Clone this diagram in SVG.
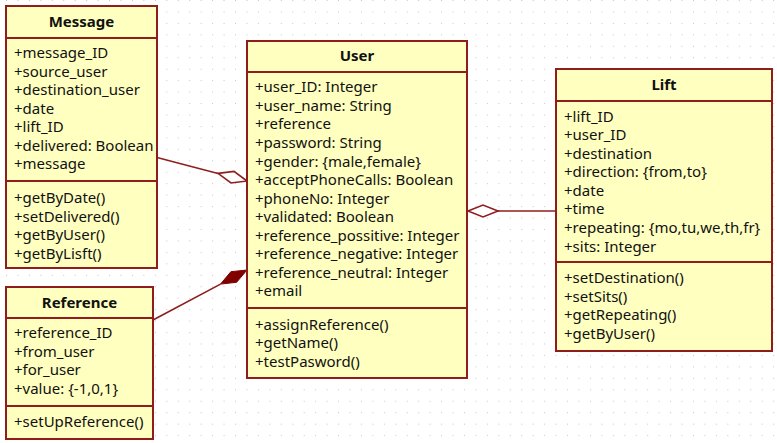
<svg xmlns="http://www.w3.org/2000/svg" width="777" height="443" viewBox="0 0 777 443">
<defs>
<pattern id="grid" patternUnits="userSpaceOnUse" x="6" y="0" width="11.45" height="11.45">
<rect x="0" y="0" width="1" height="1" fill="#c4c4c4"/>
</pattern>
<style>
.box{fill:#ffffc0;stroke:#8f1d1d;stroke-width:2}
.div{stroke:#8f1d1d;stroke-width:2}
.t{font-family:"Noto Sans","DejaVu Sans",sans-serif;font-size:15px;fill:#111}
.h{font-family:"Noto Sans","DejaVu Sans",sans-serif;font-size:15px;font-weight:bold;fill:#111;text-anchor:middle}
.ln{stroke:#8f1d1d;stroke-width:1.6;fill:none}
.hol{fill:#ffffff;stroke:#8f1d1d;stroke-width:1.6}
.fil{fill:#800000;stroke:#800000;stroke-width:1}
</style>
</defs>
<rect width="777" height="443" fill="#ffffff"/>
<rect width="777" height="443" fill="url(#grid)"/>

<g id="connectors">
<line class="ln" x1="157" y1="157.5" x2="218" y2="173.4"/>
<polygon class="hol" points="247,181 234,171.4 218,173.4 231,183"/>
<line class="ln" x1="153" y1="320" x2="220.5" y2="284.1"/>
<polygon class="fil" points="247,270 230.9,271.7 220.5,284.1 236.6,282.3"/>
<line class="ln" x1="498" y1="211" x2="556" y2="211"/>
<polygon class="hol" points="468,211 483,205 498,211 483,217"/>
</g>

<g id="Message">
<rect class="box" x="6" y="6" width="151" height="262"/>
<line class="div" x1="6" y1="38" x2="157" y2="38"/>
<line class="div" x1="6" y1="181" x2="157" y2="181"/>
<text class="h" x="81.5" y="27">Message</text>
<text class="t">
<tspan x="14" y="58.3">+message_ID</tspan>
<tspan x="14" y="76.8">+source_user</tspan>
<tspan x="14" y="95.2">+destination_user</tspan>
<tspan x="14" y="113.7">+date</tspan>
<tspan x="14" y="132.1">+lift_ID</tspan>
<tspan x="14" y="150.6">+delivered: Boolean</tspan>
<tspan x="14" y="169">+message</tspan>
<tspan x="14" y="203">+getByDate()</tspan>
<tspan x="14" y="221.5">+setDelivered()</tspan>
<tspan x="14" y="240">+getByUser()</tspan>
<tspan x="14" y="258.5">+getByLisft()</tspan>
</text>
</g>

<g id="Reference">
<rect class="box" x="6" y="287" width="147" height="152"/>
<line class="div" x1="6" y1="318" x2="153" y2="318"/>
<line class="div" x1="6" y1="406" x2="153" y2="406"/>
<text class="h" x="79.5" y="307.7">Reference</text>
<text class="t">
<tspan x="14" y="338.3">+reference_ID</tspan>
<tspan x="14" y="356.8">+from_user</tspan>
<tspan x="14" y="375.3">+for_user</tspan>
<tspan x="14" y="393.8">+value: {-1,0,1}</tspan>
<tspan x="14" y="426.7">+setUpReference()</tspan>
</text>
</g>

<g id="User">
<rect class="box" x="247" y="41" width="220" height="337"/>
<line class="div" x1="247" y1="72" x2="467" y2="72"/>
<line class="div" x1="247" y1="308" x2="467" y2="308"/>
<text class="h" x="357" y="60.7">User</text>
<text class="t">
<tspan x="255" y="92.3">+user_ID: Integer</tspan>
<tspan x="255" y="110.9">+user_name: String</tspan>
<tspan x="255" y="129.4">+reference</tspan>
<tspan x="255" y="148">+password: String</tspan>
<tspan x="255" y="166.5">+gender: {male,female}</tspan>
<tspan x="255" y="185.1">+acceptPhoneCalls: Boolean</tspan>
<tspan x="255" y="203.6">+phoneNo: Integer</tspan>
<tspan x="255" y="222.2">+validated: Boolean</tspan>
<tspan x="255" y="240.7">+reference_possitive: Integer</tspan>
<tspan x="255" y="259.3">+reference_negative: Integer</tspan>
<tspan x="255" y="277.8">+reference_neutral: Integer</tspan>
<tspan x="255" y="296.4">+email</tspan>
<tspan x="255" y="330">+assignReference()</tspan>
<tspan x="255" y="348.4">+getName()</tspan>
<tspan x="255" y="366.6">+testPasword()</tspan>
</text>
</g>

<g id="Lift">
<rect class="box" x="556" y="69" width="216" height="282"/>
<line class="div" x1="556" y1="101" x2="772" y2="101"/>
<line class="div" x1="556" y1="262" x2="772" y2="262"/>
<text class="h" x="664" y="90">Lift</text>
<text class="t">
<tspan x="564" y="121.7">+lift_ID</tspan>
<tspan x="564" y="140.2">+user_ID</tspan>
<tspan x="564" y="158.8">+destination</tspan>
<tspan x="564" y="177.3">+direction: {from,to}</tspan>
<tspan x="564" y="195.9">+date</tspan>
<tspan x="564" y="214.4">+time</tspan>
<tspan x="564" y="233">+repeating: {mo,tu,we,th,fr}</tspan>
<tspan x="564" y="251.5">+sits: Integer</tspan>
<tspan x="564" y="283.3">+setDestination()</tspan>
<tspan x="564" y="301.8">+setSits()</tspan>
<tspan x="564" y="320.2">+getRepeating()</tspan>
<tspan x="564" y="338.7">+getByUser()</tspan>
</text>
</g>
</svg>
